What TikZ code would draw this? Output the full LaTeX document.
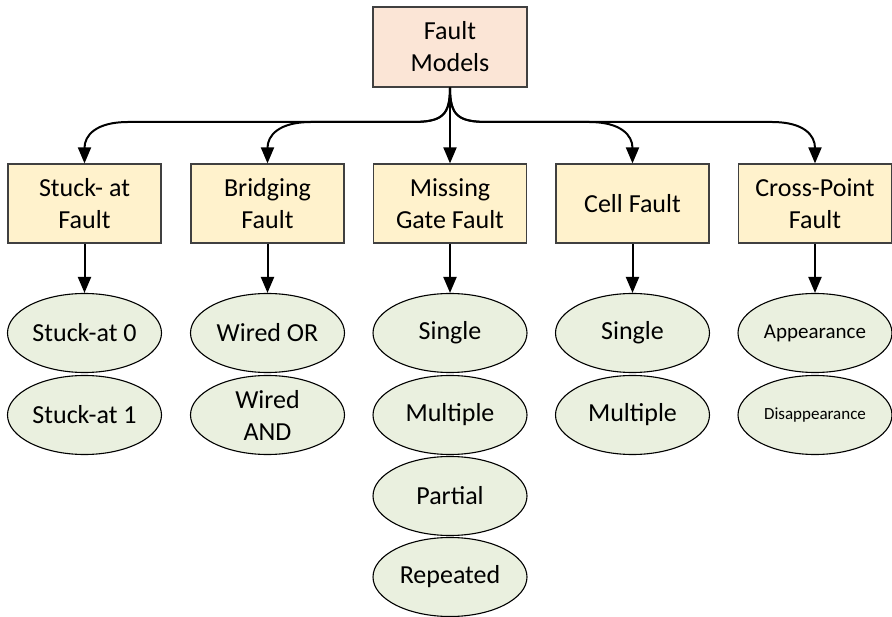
\documentclass[tikz,border=0pt]{standalone}
\usepackage{fontspec}
\setmainfont{Carlito}
\usetikzlibrary{arrows.meta,shapes.geometric}
\definecolor{topfill}{HTML}{FBE5D6}
\definecolor{catfill}{HTML}{FFF2CC}
\definecolor{leaffill}{HTML}{EAF0DF}
\definecolor{edgegray}{HTML}{404040}
\begin{document}
\begin{tikzpicture}[x=1pt,y=-1pt,
  rootbox/.style={draw=edgegray,line width=1.2pt,fill=topfill,minimum width=154pt,
    minimum height=80pt,inner sep=0pt,align=center,font=\fontsize{26}{32}\selectfont},
  catbox/.style={draw=edgegray,line width=1.2pt,fill=catfill,minimum width=153pt,
    minimum height=79pt,inner sep=0pt,align=center,font=\fontsize{26}{32}\selectfont},
  leaf/.style={ellipse,draw=black,line width=1.1pt,fill=leaffill,minimum width=154pt,
    minimum height=79pt,inner sep=0pt,align=center,font=\fontsize{26}{32}\selectfont},
  arr/.style={line width=2pt,-{Triangle[length=16pt,width=13pt]}}
]
\useasboundingbox (0,0) rectangle (892,617);

% root
\node[rootbox] (root) at (450,47) {Fault\\Models};

% fault categories
\node[catbox] (sa) at (84.5,203.5) {Stuck- at\\Fault};
\node[catbox] (br) at (267.5,203.5) {Bridging\\Fault};
\node[catbox] (mg) at (450,203.5) {Missing\\Gate Fault};
\node[catbox] (cf) at (632.5,203.5) {Cell Fault};
\node[catbox] (cp) at (815,203.5) {Cross-Point\\Fault};

% leaves
\node[leaf] (sa0) at (84.5,333) {Stuck-at 0};
\node[leaf] (sa1) at (84.5,415) {Stuck-at 1};
\node[leaf] (wor) at (267.5,333) {Wired OR};
\node[leaf] (wand) at (267.5,415) {Wired\\AND};
\node[leaf] (mgs) at (450,333) {Single};
\node[leaf] (mgm) at (450,415) {Multiple};
\node[leaf] (mgp) at (450,496) {Partial};
\node[leaf] (mgr) at (450,577) {Repeated};
\node[leaf] (cfs) at (632.5,333) {Single};
\node[leaf] (cfm) at (632.5,415) {Multiple};
\node[leaf,font=\fontsize{21}{25}\selectfont] (cpa) at (815,333) {Appearance};
\node[leaf,font=\fontsize{17}{21}\selectfont] (cpd) at (815,415) {Disappearance};

% bus bends
\coordinate (busL) at (412,122);
\coordinate (busR) at (488,122);
\coordinate (saB) at (128,122);
\coordinate (brB) at (311,122);
\coordinate (cfB) at (589,122);
\coordinate (cpB) at (772,122);

% root to categories
\draw[arr] (root.south) .. controls +(0,28) and +(30,0) .. (busL) -- (saB)
  .. controls +(-32,0) and +(0,-28) .. (sa.north);
\draw[arr] (root.south) .. controls +(0,28) and +(30,0) .. (busL) -- (brB)
  .. controls +(-32,0) and +(0,-28) .. (br.north);
\draw[arr] (root.south) -- (mg.north);
\draw[arr] (root.south) .. controls +(0,28) and +(-30,0) .. (busR) -- (cfB)
  .. controls +(32,0) and +(0,-28) .. (cf.north);
\draw[arr] (root.south) .. controls +(0,28) and +(-30,0) .. (busR) -- (cpB)
  .. controls +(32,0) and +(0,-28) .. (cp.north);

% categories to first leaves
\draw[arr] (sa.south) -- (sa0.north);
\draw[arr] (br.south) -- (wor.north);
\draw[arr] (mg.south) -- (mgs.north);
\draw[arr] (cf.south) -- (cfs.north);
\draw[arr] (cp.south) -- (cpa.north);
\end{tikzpicture}
\end{document}
